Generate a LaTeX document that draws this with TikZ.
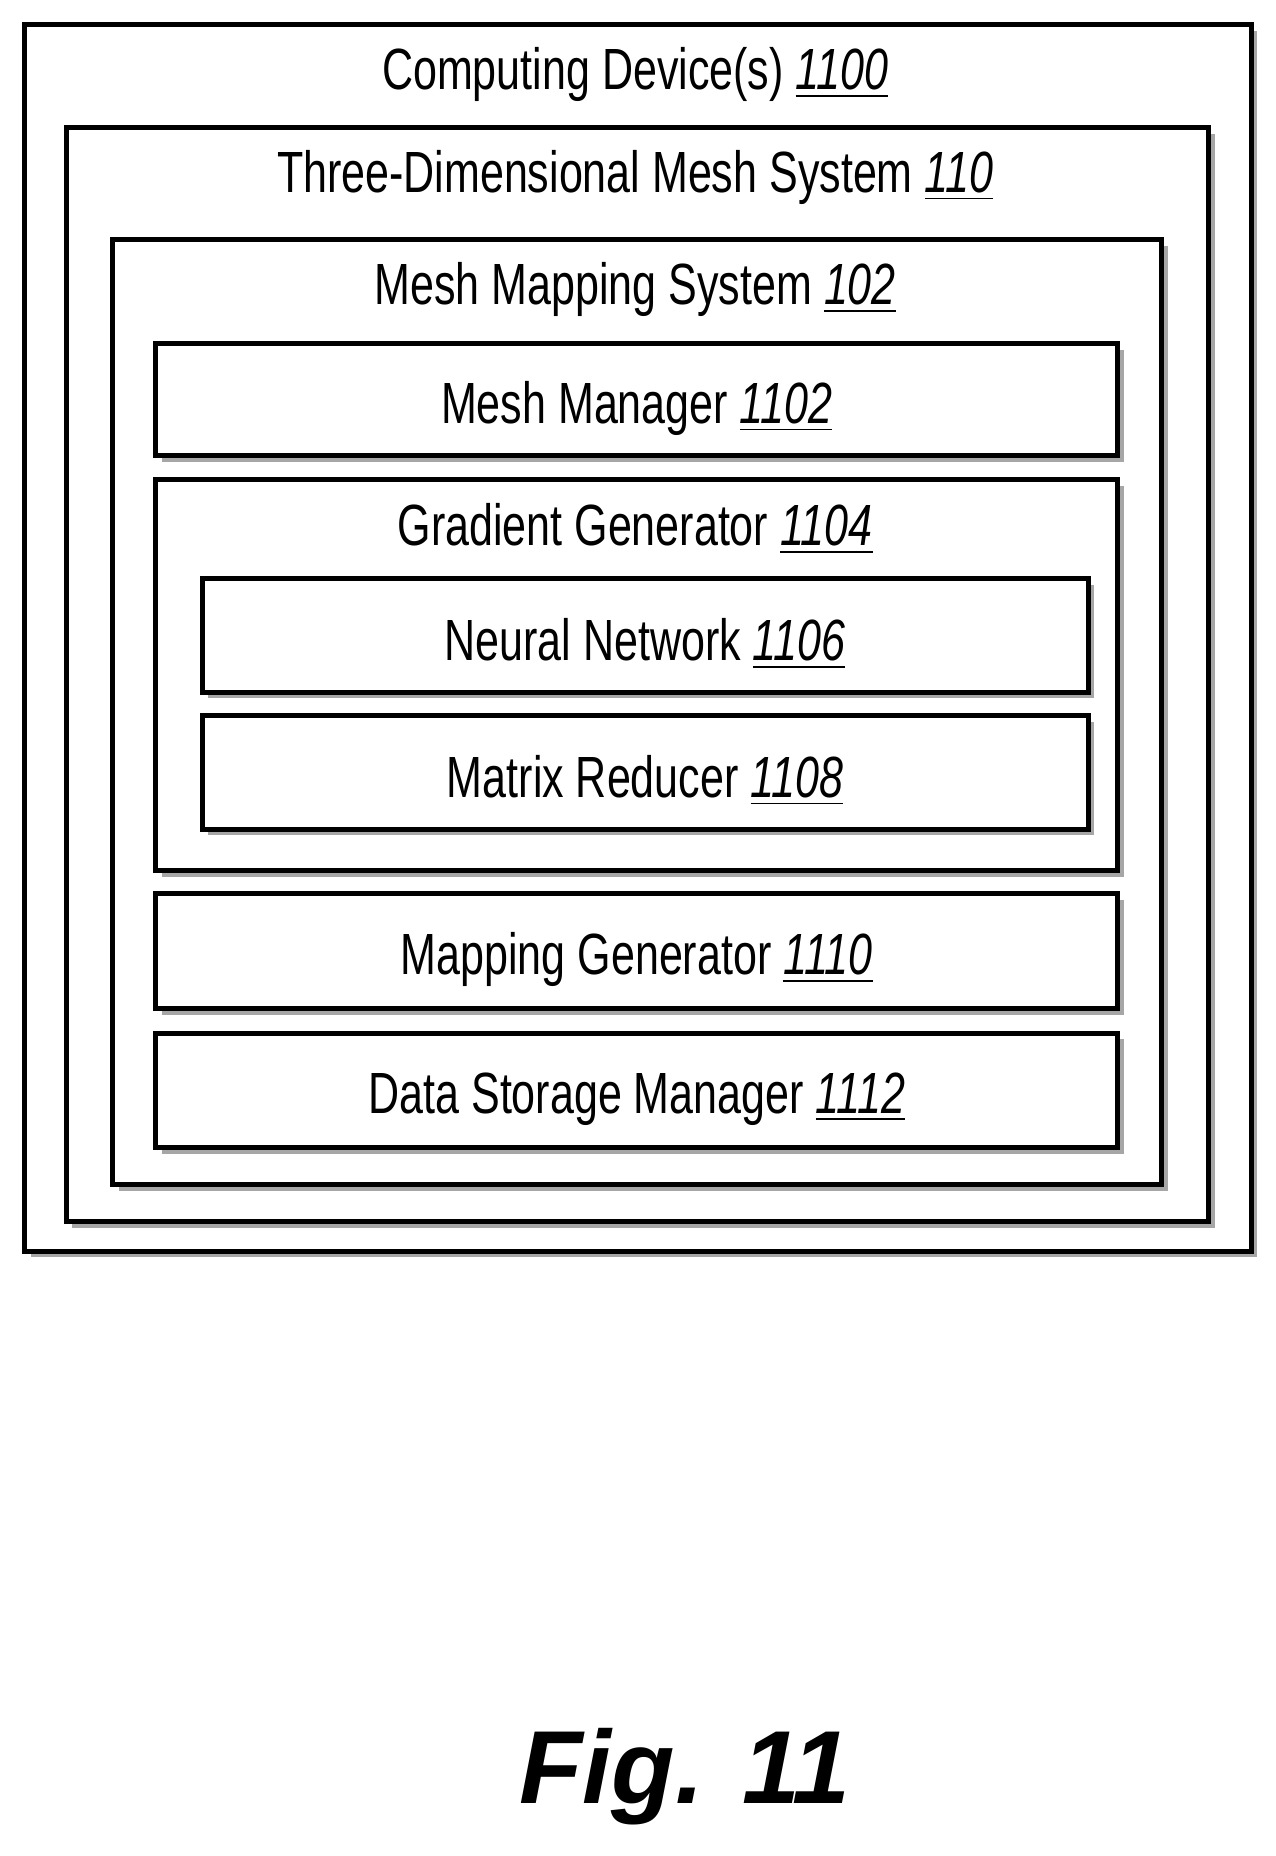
\documentclass[tikz,border=0pt]{standalone}
\usepackage{fontspec}
\setmainfont{Liberation Sans}
\newfontfamily\narrowfont[FakeStretch=0.74]{Liberation Sans}
\usetikzlibrary{positioning, shadows}

\newcommand{\refnum}[1]{\underline{\textit{#1}}}

\begin{document}
\begin{tikzpicture}[
x=0.01cm, y=-0.01cm,
box/.style={rectangle, draw=black, very thick, fill=white, anchor=north west, inner sep=0pt,
  drop shadow={shadow xshift=1.5pt, shadow yshift=-1.5pt, fill=gray!70, opacity=1}},
boxtext/.style={font=\narrowfont\fontsize{14}{16}\selectfont}
]
\useasboundingbox (0,0) rectangle (1080,1572);

% Containers
\node[box, minimum width=10.38cm, minimum height=10.38cm] (device) at (19,19) {};
\node[boxtext] (devicetitle) at (538,63) {Computing Device(s) \refnum{1100}};
\node[box, minimum width=9.67cm, minimum height=9.26cm] (meshsys) at (54,106) {};
\node[boxtext] (meshsystitle) at (538,150) {Three-Dimensional Mesh System \refnum{110}};
\node[box, minimum width=8.88cm, minimum height=8.0cm] (mapsys) at (93,201) {};
\node[boxtext] (mapsystitle) at (538,245) {Mesh Mapping System \refnum{102}};

% Components
\node[box, minimum width=8.14cm, minimum height=0.95cm] (manager) at (130,289) {};
\node[boxtext] at ([yshift=-2pt]manager.center) {Mesh Manager \refnum{1102}};
\node[box, minimum width=8.14cm, minimum height=3.31cm] (gradient) at (130,404) {};
\node[boxtext] (gradienttitle) at (538,448) {Gradient Generator \refnum{1104}};
\node[box, minimum width=7.5cm, minimum height=0.96cm] (network) at (169,488) {};
\node[boxtext] at ([yshift=-2pt]network.center) {Neural Network \refnum{1106}};
\node[box, minimum width=7.5cm, minimum height=0.96cm] (reducer) at (169,604) {};
\node[boxtext] at ([yshift=-2pt]reducer.center) {Matrix Reducer \refnum{1108}};
\node[box, minimum width=8.14cm, minimum height=0.97cm] (mapping) at (130,755) {};
\node[boxtext] at ([yshift=-2pt]mapping.center) {Mapping Generator \refnum{1110}};
\node[box, minimum width=8.14cm, minimum height=0.97cm] (storage) at (130,873) {};
\node[boxtext] at ([yshift=-2pt]storage.center) {Data Storage Manager \refnum{1112}};

% Caption
\node[font=\fontsize{25}{28}\selectfont\bfseries\itshape] (caption) at (580,1505) {Fig. 11};
\end{tikzpicture}
\end{document}
